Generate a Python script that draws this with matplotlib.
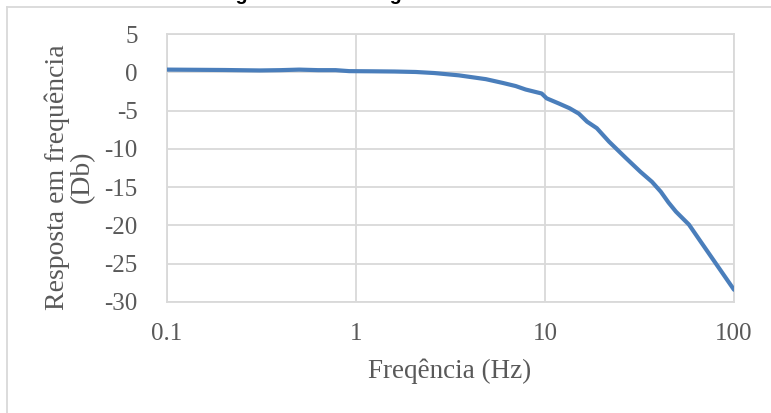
import matplotlib
matplotlib.use("Agg")
import matplotlib.pyplot as plt
from matplotlib.lines import Line2D
from matplotlib.ticker import FixedLocator, NullLocator

# ---- data ----
freq_hz = [0.1, 0.2, 0.31, 0.4, 0.5, 0.63, 0.78, 0.92, 1.2, 1.6, 2.07, 2.6,
           3.5, 4.87, 6.0, 7.0, 7.9, 9.6, 10.2, 11.9, 13.5, 15.1, 16.7, 18.8,
           21.8, 26.8, 32.0, 36.8, 41.0, 45.0, 49.3, 57.8, 65.3, 100.0]
resp_db = [0.35, 0.3, 0.24, 0.28, 0.35, 0.28, 0.28, 0.15, 0.13, 0.1, 0.04, -0.1,
           -0.4, -0.9, -1.4, -1.8, -2.25, -2.77, -3.4, -4.1, -4.7, -5.4, -6.45, -7.3,
           -9.05, -11.2, -13.0, -14.3, -15.6, -17.0, -18.2, -19.9, -21.8, -28.4]
x_ticks = [0.1, 1, 10, 100]
x_tick_labels = ["0.1", "1", "10", "100"]
y_ticks = [5, 0, -5, -10, -15, -20, -25, -30]
y_tick_labels = ["5", "0", "-5", "-10", "-15", "-20", "-25", "-30"]
title_text = "Diagrama de Bode: ganho"
x_label = "Freqência (Hz)"
y_label = "Resposta em frequência\n(Db)"

W, H = 771, 413
fig = plt.figure(figsize=(W / 100, H / 100), dpi=100)

# plot area in pixels: left 167, right 734, top 34, bottom 302
ax = fig.add_axes([167 / W, (H - 302) / H, (734 - 167) / W, (302 - 34) / H])

grid_c = "#d9d9d9"
text_c = "#595959"
serif = ["Liberation Serif", "DejaVu Serif"]

ax.plot(freq_hz, resp_db, color="#4A7EBB", lw=3.0, solid_capstyle="round",
        solid_joinstyle="round", zorder=3)
ax.set_xscale("log")
ax.set_xlim(0.1, 100)
ax.set_ylim(-30, 5)
ax.xaxis.set_major_locator(FixedLocator(x_ticks))
ax.xaxis.set_minor_locator(NullLocator())
ax.set_xticks(x_ticks)
ax.set_xticklabels(x_tick_labels)
ax.set_yticks(y_ticks)
ax.set_yticklabels(y_tick_labels)
ax.grid(True, color=grid_c, lw=1.3, zorder=0)
for s in ax.spines.values():
    s.set_color(grid_c)
    s.set_linewidth(1.3)
ax.tick_params(axis="both", length=0, colors=text_c, labelsize=18)
ax.tick_params(axis="y", pad=21)
ax.tick_params(axis="x", pad=15)
for lab in ax.get_xticklabels() + ax.get_yticklabels():
    lab.set_fontfamily(serif)
    lab.set_color(text_c)

# axis titles
fig.text(450 / W, 1 - 371 / H, x_label, ha="center", va="center",
         fontsize=19.5, color=text_c, family=serif)
fig.text(70 / W, 1 - 177 / H, y_label, ha="center", va="center",
         rotation=90, multialignment="center", fontsize=20, color=text_c,
         family=serif, linespacing=1.0)

# chart title (mostly cut off at top of image, as in the reference)
fig.text(205 / W, 1 + 0.5 / H, title_text, ha="left", va="baseline",
         fontsize=14.1, fontweight="bold", color="black",
         family=["Liberation Sans", "DejaVu Sans"])

# outer chart border (extends past right and bottom edges)
fig.add_artist(Line2D([7 / W, 7 / W], [1 - 7 / H, -0.1], color=grid_c, lw=1.3,
                      transform=fig.transFigure))
fig.add_artist(Line2D([7 / W, 1.1], [1 - 7 / H, 1 - 7 / H], color=grid_c, lw=1.3,
                      transform=fig.transFigure))

fig.savefig("out.png", dpi=100)
